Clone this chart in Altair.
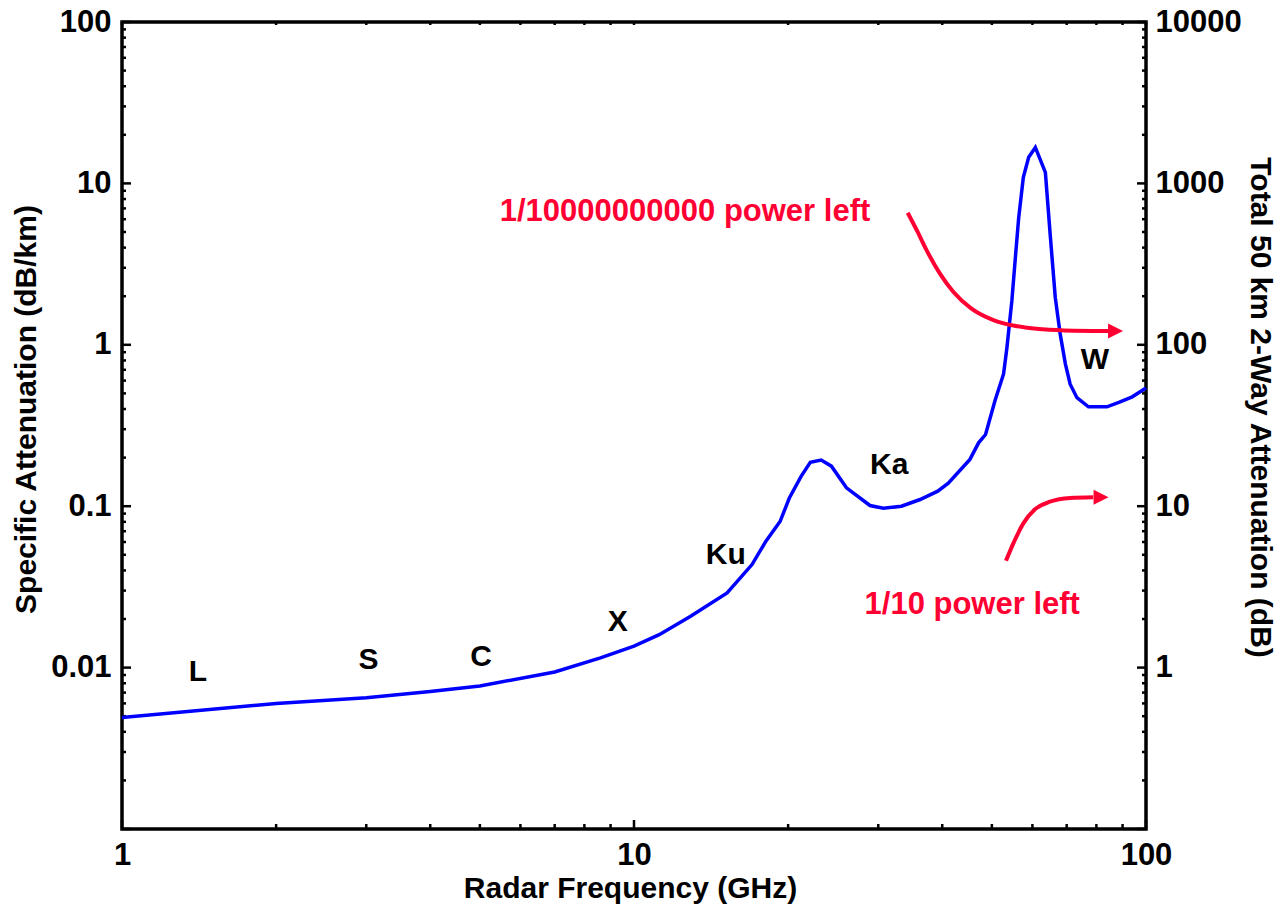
import altair as alt
import pandas as pd

# ---------------- data ----------------
curve_freq = [1.0, 2.0, 3.0, 4.0, 5.0, 7.0, 8.6, 10.0, 11.2, 12.9, 15.2, 17.0, 18.1,
              19.3, 20.1, 21.2, 22.1, 23.2, 24.3, 26.0, 28.9, 30.7, 33.3, 36.2, 39.2,
              41.1, 45.3, 47.1, 48.6, 50.7, 52.7, 53.5, 54.7, 55.5, 56.4, 57.6, 59.0,
              60.8, 63.6, 65.0, 66.5, 68.0, 69.6, 71.1, 73.3, 77.2, 83.9, 88.5, 94.0, 100.0]
curve_att = [0.0049, 0.0060, 0.0065, 0.0071, 0.0077, 0.0094, 0.0115, 0.0136, 0.0160,
             0.0208, 0.029, 0.0435, 0.0607, 0.0807, 0.112, 0.153, 0.187, 0.193, 0.177,
             0.130, 0.101, 0.097, 0.100, 0.110, 0.124, 0.139, 0.195, 0.247, 0.278, 0.45,
             0.66, 0.96, 1.87, 3.3, 6.1, 10.9, 14.5, 16.7, 11.7, 4.8, 1.96, 1.16, 0.76,
             0.57, 0.47, 0.413, 0.413, 0.44, 0.476, 0.54]

band_names = ["L", "S", "C", "X", "Ku", "Ka", "W"]
band_freq = [1.407, 3.03, 5.03, 9.30, 15.11, 31.52, 79.5]
band_att = [0.0094, 0.0111, 0.0116, 0.0193, 0.0498, 0.180, 0.805]

note_texts = ["1/10000000000 power left", "1/10 power left"]
note_freq = [12.58, 45.77]
note_att = [6.68, 0.0245]

arrow1_freq = [34.24, 35.79, 37.25, 39.56, 42.02, 45.54, 50.35, 55.66, 62.80, 72.27, 84.85]
arrow1_att = [6.58, 5.02, 3.87, 2.77, 2.13, 1.683, 1.424, 1.308, 1.247, 1.223, 1.218]
arrow2_freq = [53.29, 55.07, 57.60, 60.70, 64.94, 71.06, 78.89]
arrow2_att = [0.0460, 0.0589, 0.0783, 0.0957, 0.1066, 0.1124, 0.1135]
head_freq = [87.2, 81.7]
head_att = [1.218, 0.1135]

x_labels = [1, 10, 100]
y_left_labels = [0.01, 0.1, 1, 10, 100]
y_right_labels = [1, 10, 100, 1000, 10000]

x_major = [1, 10, 100]
x_minor = [m * d for d in [1, 10] for m in range(2, 10)]
yl_major = [0.001, 0.01, 0.1, 1, 10, 100]
yl_minor = [m * d for d in [0.001, 0.01, 0.1, 1, 10] for m in range(2, 10)]
yr_major = [0.1, 1, 10, 100, 1000, 10000]
yr_minor = [m * d for d in [0.1, 1, 10, 100, 1000] for m in range(2, 10)]

# ---------------- styling ----------------
W, H = 1024, 807
FONT = "Liberation Sans"
RED = "#FF0033"
BLUE = "#0000FF"
LBL = 31
TTL = 30

xs = alt.Scale(type="log", domain=[1, 100], nice=False)
yls = alt.Scale(type="log", domain=[0.001, 100], nice=False)
yrs = alt.Scale(type="log", domain=[0.1, 10000], nice=False)

x_axis = alt.Axis(values=x_labels, format="~g", ticks=False, tickSize=0, domain=False,
                  grid=False, labelFont=FONT, labelFontSize=LBL, labelFontWeight="bold",
                  labelColor="black", labelPadding=11, labelFlush=False, labelOverlap=False,
                  title="Radar Frequency (GHz)", titleFont=FONT, titleFontSize=30,
                  titleFontWeight="bold", titleColor="black", titleX=508, titleY=68,
                  titleBaseline="alphabetic", titleAlign="center")
yl_axis = alt.Axis(values=y_left_labels, format="~g", ticks=False, tickSize=0, domain=False,
                   grid=False, labelFont=FONT, labelFontSize=LBL, labelFontWeight="bold",
                   labelColor="black", labelPadding=11, labelFlush=False, labelOverlap=False,
                   title="Specific Attenuation (dB/km)", titleFont=FONT, titleFontSize=TTL,
                   titleFontWeight="bold", titleColor="black", titleX=-87, titleY=387,
                   titleBaseline="alphabetic", titleAlign="center", titleAngle=270)
yr_axis = alt.Axis(orient="right", values=y_right_labels, format="~g", ticks=False,
                   tickSize=0, domain=False, grid=False, labelFont=FONT, labelFontSize=LBL,
                   labelFontWeight="bold", labelColor="black", labelPadding=9,
                   labelFlush=False, labelOverlap=False,
                   title="Total 50 km 2-Way Attenuation (dB)", titleFont=FONT,
                   titleFontSize=TTL, titleFontWeight="bold", titleColor="black",
                   titleX=104, titleY=385, titleBaseline="alphabetic", titleAlign="center",
                   titleAngle=90)

curve_df = pd.DataFrame({"f": curve_freq, "a": curve_att})
band_df = pd.DataFrame({"f": band_freq, "a": band_att, "t": band_names})
note_df = pd.DataFrame({"f": note_freq, "a": note_att, "t": note_texts})
arrow_df = pd.DataFrame({
    "f": arrow1_freq + arrow2_freq,
    "a": arrow1_att + arrow2_att,
    "id": ["a1"] * len(arrow1_freq) + ["a2"] * len(arrow2_freq),
    "o": list(range(len(arrow1_freq))) + list(range(len(arrow2_freq))),
})
head_df = pd.DataFrame({"f": head_freq, "a": head_att})

X = alt.X("f:Q", scale=xs, axis=x_axis)
YL = alt.Y("a:Q", scale=yls, axis=yl_axis)

curve = alt.Chart(curve_df).mark_line(color=BLUE, strokeWidth=3.5).encode(x=X, y=YL)

bands = alt.Chart(band_df).mark_text(font=FONT, fontSize=30, fontWeight="bold",
                                     color="black", align="center",
                                     baseline="middle").encode(x=X, y=YL, text="t:N")
notes = alt.Chart(note_df).mark_text(font=FONT, fontSize=31, fontWeight="bold",
                                     color=RED, align="center",
                                     baseline="middle").encode(x=X, y=YL, text="t:N")
arrows = alt.Chart(arrow_df).mark_line(color=RED, strokeWidth=4, interpolate="monotone").encode(
    x=X, y=YL, detail="id:N", order="o:Q")
heads = alt.Chart(head_df).mark_point(shape="M-1,-1L1,0L-1,1Z", size=225, filled=True,
                                      color=RED, opacity=1, strokeWidth=0).encode(x=X, y=YL)

TW = 2.5
def yl_ticks(vals, length):
    d = pd.DataFrame({"a": vals})
    return alt.Chart(d).mark_rule(color="black", strokeWidth=TW).encode(
        y=YL, x=alt.value(0), x2=alt.value(length))

def x_ticks(vals, length_bottom, length_top):
    d = pd.DataFrame({"f": vals})
    bottom = alt.Chart(d).mark_rule(color="black", strokeWidth=TW).encode(
        x=X, y=alt.value(H), y2=alt.value(H - length_bottom))
    top = alt.Chart(d).mark_rule(color="black", strokeWidth=TW).encode(
        x=X, y=alt.value(0), y2=alt.value(length_top))
    return [bottom, top]

YR = alt.Y("a:Q", scale=yrs, axis=yr_axis)
def yr_ticks(vals, length):
    d = pd.DataFrame({"a": vals})
    return alt.Chart(d).mark_rule(color="black", strokeWidth=TW).encode(
        y=YR, x=alt.value(W), x2=alt.value(W - length))

left_group = alt.layer(
    yl_ticks(yl_major, 9), yl_ticks(yl_minor, 4),
    *x_ticks(x_major, 9, 3), *x_ticks(x_minor, 5, 3),
    curve, arrows, heads, bands, notes,
)
right_group = alt.layer(yr_ticks(yr_major, 9), yr_ticks(yr_minor, 4))

chart = alt.layer(left_group, right_group).resolve_scale(y="independent").properties(
    width=W, height=H,
    padding={"left": 122, "top": 22, "right": 132, "bottom": 81},
    autosize=alt.AutoSizeParams(type="none"),
    background="white",
).configure_view(stroke="black", strokeWidth=3.5)

chart.save("out.html", embed_options={"renderer": "svg", "actions": False})
